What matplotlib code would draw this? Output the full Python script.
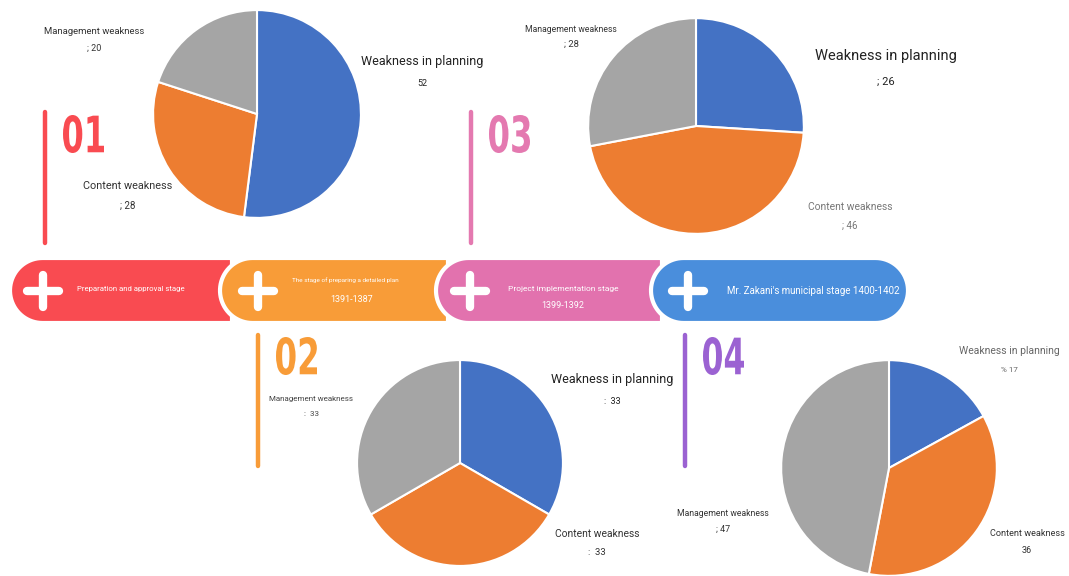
import matplotlib
matplotlib.use('Agg')
import matplotlib.pyplot as plt
from matplotlib.patches import Polygon, PathPatch
from matplotlib.textpath import TextPath
from matplotlib.font_manager import FontProperties
from matplotlib.transforms import Affine2D
import numpy as np

plt.rcParams['font.family'] = ['Roboto', 'DejaVu Sans']

W, H = 1069, 576

# pie data: planning, content, management
categories = ['Weakness in planning', 'Content weakness', 'Management weakness']
stage1 = [52, 28, 20]
stage2 = [33, 33, 33]
stage3 = [26, 46, 28]
stage4 = [17, 36, 47]
pie_colors = ['#4472C4', '#ED7D31', '#A5A5A5']

stage_names = ['Preparation and approval stage',
               'The stage of preparing a detailed plan',
               'Project implementation stage',
               "Mr. Zakani's municipal stage 1400-1402"]
stage_years = ['', '1391-1387', '1399-1392', '']
stage_nums = ['01', '02', '03', '04']
stage_colors = ['#F94B51', '#F89C38', '#E272AE', '#4A8EDC']
num_colors = ['#F94B51', '#F89C38', '#E479B0', '#9B62D2']

fig = plt.figure(figsize=(W / 100, H / 100), dpi=100)
bg = fig.add_axes([0, 0, 1, 1])
bg.set_xlim(0, W)
bg.set_ylim(H, 0)
bg.axis('off')


def segment(ax, x0, x1, color, rounded_right=False):
    top, bot = 258, 323
    r = (bot - top) / 2
    yc = (top + bot) / 2
    t = np.linspace(np.pi / 2, 3 * np.pi / 2, 40)
    left = np.column_stack([x0 + r + r * np.cos(t), yc - r * np.sin(t)])
    if rounded_right:
        t2 = np.linspace(-np.pi / 2, np.pi / 2, 40)
        right = np.column_stack([x1 - r + r * np.cos(t2), yc - r * np.sin(t2)])
    else:
        right = np.array([[x1, bot], [x1, top]])
    pts = np.vstack([left, right])
    ax.add_patch(Polygon(pts, closed=True, facecolor=color, edgecolor='white',
                         linewidth=3, zorder=2))


def plus(ax, x, y):
    ax.plot([x - 16, x + 16], [y, y], color='white', lw=6, solid_capstyle='round', zorder=3)
    ax.plot([x, x], [y - 16, y + 16], color='white', lw=6, solid_capstyle='round', zorder=3)


def big_number(ax, s, x0, y0, w, h, color):
    # condensed bold digits: draw the glyph outline squeezed into a box
    tp = TextPath((0, 0), s, size=10, prop=FontProperties(family='DejaVu Sans', weight='bold'))
    ext = tp.get_extents()
    tr = (Affine2D().translate(-ext.x0, -ext.y0)
          .scale(w / ext.width, -h / ext.height)
          .translate(x0, y0 + h))
    ax.add_patch(PathPatch(tr.transform_path(tp), facecolor=color, edgecolor='none', zorder=3))


# banner
seg_x = [(10, 232), (220, 448), (436, 662), (651, 908)]
for i, (x0, x1) in enumerate(seg_x):
    segment(bg, x0, x1, stage_colors[i], rounded_right=(i == 3))

plus_x = [43, 258, 470, 688]
for px in plus_x:
    plus(bg, px, 291)

bg.text(131, 289, stage_names[0], color='white', fontsize=5.6, ha='center', va='center', zorder=4)
bg.text(345, 280, stage_names[1], color='white', fontsize=4.6, ha='center', va='center', zorder=4)
bg.text(352, 300, stage_years[1], color='white', fontsize=6.5, ha='center', va='center', zorder=4)
bg.text(563, 289, stage_names[2], color='white', fontsize=6, ha='center', va='center', zorder=4)
bg.text(563, 305, stage_years[2], color='white', fontsize=6.5, ha='center', va='center', zorder=4)
bg.text(813, 291, stage_names[3], color='white', fontsize=7, ha='center', va='center', zorder=4)

# vertical bars and stage numbers
bars = [(45, 112, 243), (258, 335, 466), (471, 112, 243), (685, 335, 466)]
num_box = [(63, 115), (276, 337), (489, 115), (703, 337)]
for i in range(4):
    x, y0, y1 = bars[i]
    bg.plot([x, x], [y0, y1], color=num_colors[i], lw=3.2, solid_capstyle='round')
    nx, ny = num_box[i]
    big_number(bg, stage_nums[i], nx, ny, 41, 38, num_colors[i])


def add_pie(cx, cy, r, vals):
    ax = fig.add_axes([(cx - r) / W, (H - cy - r) / H, 2 * r / W, 2 * r / H])
    ax.pie(vals, colors=pie_colors, startangle=90, counterclock=False,
           wedgeprops=dict(edgecolor='white', linewidth=1.5))
    ax.set_xlim(-1.02, 1.02)
    ax.set_ylim(-1.02, 1.02)
    ax.axis('off')
    return ax


add_pie(257, 114, 106, stage1)
add_pie(696, 126, 110, stage3)
add_pie(460, 463, 105, stage2)
add_pie(889, 468, 110, stage4)


def label(x, y, name, val, fs, vfs, color='#333333'):
    bg.text(x, y, name, fontsize=fs, color=color, ha='center', va='center')
    bg.text(x, y + fs * 2.5, val, fontsize=vfs, color=color, ha='center', va='center')


# stage 1
label(94, 31, categories[2], '; %d' % stage1[2], 6.8, 6.5)
label(422, 61, categories[0], '%d' % stage1[0], 9, 6.5, '#222222')
label(128, 186, categories[1], '; %d' % stage1[1], 7.8, 7)
# stage 3
label(571, 29, categories[2], '; %d' % stage3[2], 6.2, 6.8)
label(886, 56, categories[0], '; %d' % stage3[0], 10.5, 8, '#222222')
label(850, 207, categories[1], '; %d' % stage3[1], 7.4, 7, '#777777')
# stage 2
label(311, 399, categories[2], ':  %d' % stage2[2], 5.8, 5.8, '#444444')
label(612, 379, categories[0], ':  %d' % stage2[0], 9, 6.5, '#222222')
label(597, 534, categories[1], ':  %d' % stage2[1], 7.4, 6.8)
# stage 4
label(1009, 351, categories[0], '%% %d' % stage4[0], 7.5, 5.8, '#666666')
label(723, 514, categories[2], '; %d' % stage4[2], 6.2, 6.5)
label(1027, 534, categories[1], '%d' % stage4[1], 6.6, 6.5)

fig.savefig('out.png', dpi=100)
